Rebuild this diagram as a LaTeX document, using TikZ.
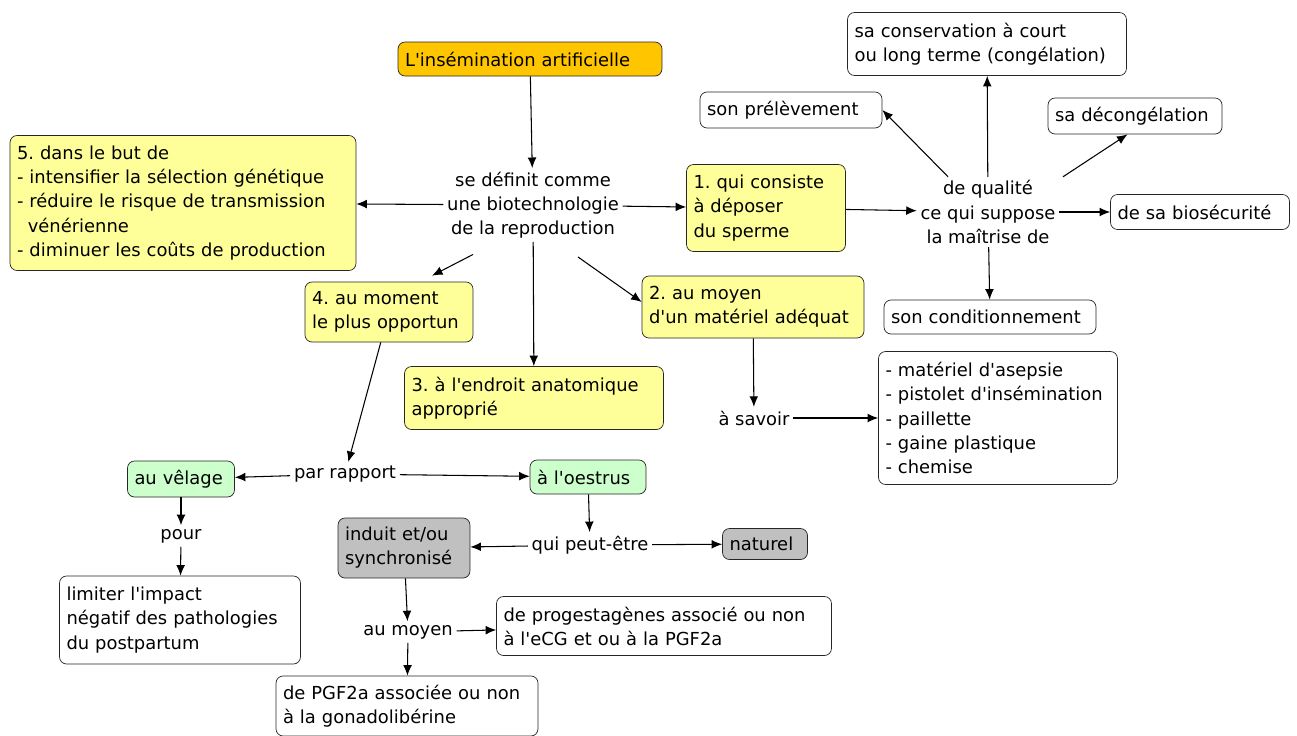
\documentclass[tikz,border=0pt]{standalone}
\usepackage{fontspec}
\newfontfamily\cmapfont{DejaVu Sans}
\usepackage{xcolor}
\usepackage{tikz}
\usetikzlibrary{arrows.meta}

\definecolor{titleorange}{RGB}{255,198,0}
\definecolor{stepyellow}{RGB}{255,255,153}
\definecolor{cyclegreen}{RGB}{204,255,204}
\definecolor{modegray}{RGB}{192,192,192}

\tikzset{
  concept/.style={draw=black!85, rounded corners=4pt, align=left, inner xsep=0.14cm, inner ysep=2pt},
  linkphrase/.style={align=center, inner sep=2pt},
  link/.style={-{Latex[length=6pt,width=5pt]}, semithick}
}

\begin{document}
\begin{tikzpicture}[x=0.02cm, y=-0.02cm, font=\cmapfont\fontsize{10.2}{13.7}\selectfont\frenchspacing]
    \useasboundingbox (0,0) rectangle (1297,735);

    \node[concept, fill=titleorange, text width=5.0cm, minimum height=0.68cm] (title) at (530,59) {L'insémination artificielle};
    \node[linkphrase] (def) at (533,205) {se définit comme\\une biotechnologie\\de la reproduction};
    \node[concept, fill=stepyellow, text width=6.64cm, minimum height=2.7cm] (but) at (183,203) {5. dans le but de\\- intensifier la sélection génétique\\- réduire le risque de transmission\\\hspace*{0.6em}vénérienne\\- diminuer les coûts de production};
    \node[concept, fill=stepyellow, text width=2.9cm, minimum height=1.74cm] (depot) at (766,208) {1. qui consiste\\à déposer\\du sperme};
    \node[concept, fill=stepyellow, text width=4.16cm, minimum height=1.24cm] (materiel) at (753,307) {2. au moyen\\d'un matériel adéquat};
    \node[concept, fill=stepyellow, text width=4.9cm, minimum height=1.26cm] (endroit) at (534,398) {3. à l'endroit anatomique\\approprié};
    \node[concept, fill=stepyellow, text width=3.08cm, minimum height=1.2cm] (moment) at (389,312) {4. au moment\\le plus opportun};

    \node[linkphrase] (qualite) at (988,212) {de qualité\\ce qui suppose\\la maîtrise de};
    \node[concept, text width=3.36cm, minimum height=0.72cm] (prelev) at (791,110) {son prélèvement};
    \node[concept, text width=5.3cm, minimum height=1.26cm] (conserv) at (987,44) {sa conservation à court\\ou long terme (congélation)};
    \node[concept, text width=3.2cm, minimum height=0.72cm] (decong) at (1135,116) {sa décongélation};
    \node[concept, text width=3.3cm, minimum height=0.7cm] (biosec) at (1200,212) {de sa biosécurité};
    \node[concept, text width=3.96cm, minimum height=0.68cm] (condit) at (990,317) {son conditionnement};

    \node[linkphrase] (asavoir) at (754,418) {à savoir};
    \node[concept, text width=4.5cm, minimum height=2.66cm] (liste) at (998,418) {- matériel d'asepsie\\- pistolet d'insémination\\- paillette\\- gaine plastique\\- chemise};

    \node[linkphrase] (rapport) at (345,474) {par rapport};
    \node[concept, fill=cyclegreen, text width=1.86cm, minimum height=0.72cm] (velage) at (181,479) {au vêlage};
    \node[concept, fill=cyclegreen, text width=2.04cm, minimum height=0.68cm] (oestrus) at (588,477) {à l'oestrus};
    \node[linkphrase, below of=velage, node distance=1.14cm] (pour) {pour};
    \node[concept, text width=4.54cm, minimum height=1.76cm] (limiter) at (180,620) {limiter l'impact\\négatif des pathologies\\du postpartum};

    \node[linkphrase] (peutetre) at (590,545) {qui peut-être};
    \node[concept, fill=modegray, text width=2.36cm, minimum height=1.2cm] (induit) at (404,548) {induit et/ou\\synchronisé};
    \node[concept, fill=modegray, text width=1.42cm, minimum height=0.62cm] (naturel) at (765,544) {naturel};

    \node[linkphrase] (aumoyen) at (408,632) {au moyen};
    \node[concept, text width=6.42cm, minimum height=1.18cm] (progest) at (664,626) {de progestagènes associé ou non\\à l'eCG et ou à la PGF2a};
    \node[concept, text width=4.96cm, minimum height=1.2cm] (pgf) at (407,706) {de PGF2a associée ou non\\à la gonadolibérine};

    \draw[link] (title) -- (def);
    \draw[link] (def) -- (but);
    \draw[link] (def) -- (depot);
    \draw[link] ([xshift=-1.2cm,yshift=-0.25cm]def.south) -- ([xshift=0.86cm,yshift=0.12cm]moment.north);
    \draw[link] (def) -- (endroit);
    \draw[link] ([xshift=0.9cm,yshift=-0.3cm]def.south) -- ([yshift=0.1cm]materiel.west);

    \draw[link] (depot) -- (qualite);
    \draw[link] ([xshift=-0.8cm]qualite.north) -- (prelev.east);
    \draw[link] (qualite) -- (conserv);
    \draw[link] ([xshift=1.5cm]qualite.north) -- ([xshift=-0.15cm]decong.south);
    \draw[link] (qualite) -- (biosec);
    \draw[link] (qualite) -- (condit);

    \draw[link] (materiel) -- (asavoir);
    \draw[link] (asavoir) -- (liste);

    \draw[link] (moment) -- (rapport);
    \draw[link] (rapport) -- (velage);
    \draw[link] (rapport) -- (oestrus);
    \draw[link] (velage) -- (pour);
    \draw[link] (pour) -- (limiter);

    \draw[link] (oestrus) -- (peutetre);
    \draw[link] (peutetre) -- (induit);
    \draw[link] (peutetre) -- (naturel);
    \draw[link] (induit) -- (aumoyen);
    \draw[link] (aumoyen) -- (progest);
    \draw[link] (aumoyen) -- (pgf);
\end{tikzpicture}
\end{document}
